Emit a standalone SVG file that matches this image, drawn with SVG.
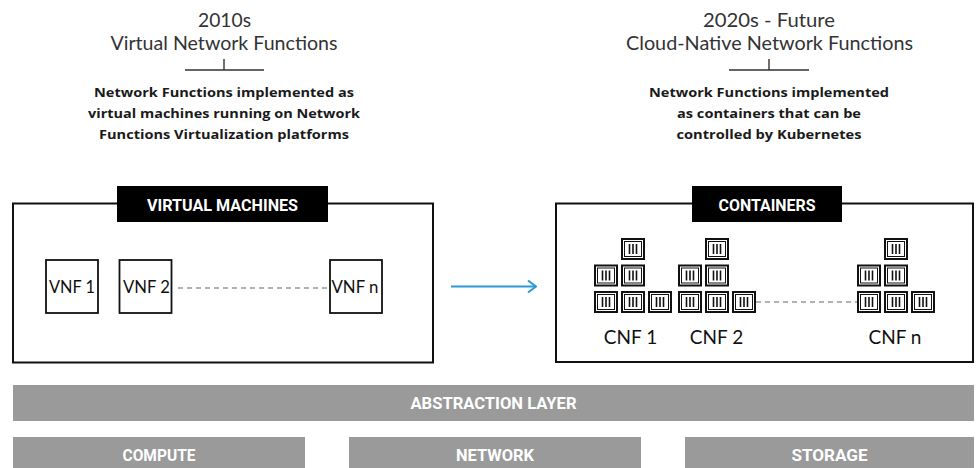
<svg xmlns="http://www.w3.org/2000/svg" xmlns:xlink="http://www.w3.org/1999/xlink" width="977" height="468" viewBox="0 0 977 468">
  <style>
    .title { font-family: Lato, "Liberation Sans", sans-serif; font-weight: 400; font-size: 19px; fill: #333; text-anchor: middle; }
    .desc { font-family: "Open Sans", "Liberation Sans", sans-serif; font-weight: 700; font-size: 13px; fill: #1a1a1a; text-anchor: middle; }
    .tick { stroke: #333; stroke-width: 1.4; fill: none; }
    .frame { fill: #fff; stroke: #111; stroke-width: 2; }
    .hdr { fill: #000; }
    .hdrtxt { font-family: Roboto, "Liberation Sans", sans-serif; font-weight: 700; font-size: 16px; fill: #fff; text-anchor: middle; }
    .vnf { fill: #fff; stroke: #111; stroke-width: 1.8; }
    .lbl { font-family: Lato, "Liberation Sans", sans-serif; font-size: 17.5px; fill: #111; text-anchor: middle; }
    .clbl { font-family: Lato, "Liberation Sans", sans-serif; font-size: 19px; fill: #111; text-anchor: middle; }
    .dash { stroke: #999; stroke-width: 1.5; stroke-dasharray: 5 4; fill: none; }
    .arrow { stroke: #2a9ad6; stroke-width: 2; fill: none; }
    .bar { fill: #9a9a9a; }
    .bartxt { font-family: Roboto, "Liberation Sans", sans-serif; font-weight: 700; font-size: 16px; fill: #fff; text-anchor: middle; }
  </style>
  <defs>
    <marker id="chev" viewBox="0 0 10 14" refX="9" refY="7" markerWidth="10" markerHeight="14" markerUnits="userSpaceOnUse" orient="auto">
      <path d="M1,1 L9,7 L1,13" fill="none" stroke="#2a9ad6" stroke-width="2"/>
    </marker>
    <g id="ctr">
      <rect x="1" y="1" width="22" height="20" fill="#fff" stroke="#111" stroke-width="2"/>
      <rect x="3.5" y="3.5" width="17" height="15" fill="none" stroke="#111" stroke-width="1"/>
      <path d="M8.5,6 V16 M12,6 V16 M15.5,6 V16" stroke="#111" stroke-width="1.6"/>
    </g>
  </defs>

  <g id="title-left">
    <text class="title" x="224.5" y="27" textLength="53" lengthAdjust="spacingAndGlyphs">2010s</text>
    <text class="title" x="224" y="50" textLength="227" lengthAdjust="spacingAndGlyphs">Virtual Network Functions</text>
    <path class="tick" d="M185,70 H264 M224,59 V70"/>
    <text class="desc" x="224" y="97" textLength="260" lengthAdjust="spacingAndGlyphs">Network Functions implemented as</text>
    <text class="desc" x="224" y="117.5" textLength="272" lengthAdjust="spacingAndGlyphs">virtual machines running on Network</text>
    <text class="desc" x="224" y="138.5" textLength="250" lengthAdjust="spacingAndGlyphs">Functions Virtualization platforms</text>
  </g>

  <g id="title-right">
    <text class="title" x="769" y="27" textLength="132" lengthAdjust="spacingAndGlyphs">2020s - Future</text>
    <text class="title" x="769.5" y="50" textLength="287" lengthAdjust="spacingAndGlyphs">Cloud-Native Network Functions</text>
    <path class="tick" d="M729,70 H809 M769,59 V70"/>
    <text class="desc" x="769" y="97" textLength="240" lengthAdjust="spacingAndGlyphs">Network Functions implemented</text>
    <text class="desc" x="769" y="117.5" textLength="184" lengthAdjust="spacingAndGlyphs">as containers that can be</text>
    <text class="desc" x="769" y="138.5" textLength="185" lengthAdjust="spacingAndGlyphs">controlled by Kubernetes</text>
  </g>

  <g id="vm-box">
    <rect class="frame" x="13" y="203.5" width="420" height="159"/>
    <rect class="hdr" x="117" y="186" width="211" height="36"/>
    <text class="hdrtxt" x="222.5" y="210.5" textLength="151" lengthAdjust="spacingAndGlyphs">VIRTUAL MACHINES</text>
  </g>

  <g id="vnf1">
    <rect class="vnf" x="46" y="260" width="52" height="53"/>
    <text class="lbl" x="72" y="292.5" textLength="46" lengthAdjust="spacingAndGlyphs">VNF 1</text>
  </g>
  <g id="vnf2">
    <rect class="vnf" x="119.5" y="260" width="52" height="53"/>
    <text class="lbl" x="146.5" y="292.5" textLength="47" lengthAdjust="spacingAndGlyphs">VNF 2</text>
  </g>
  <g id="vnfn">
    <rect class="vnf" x="330" y="260" width="52" height="53"/>
    <text class="lbl" x="355" y="292.5" textLength="47" lengthAdjust="spacingAndGlyphs">VNF n</text>
  </g>

  <g id="ctr-box">
    <rect class="frame" x="556" y="203.5" width="417" height="158.5"/>
    <rect class="hdr" x="692" y="186" width="150" height="36"/>
    <text class="hdrtxt" x="767" y="210.5" textLength="97" lengthAdjust="spacingAndGlyphs">CONTAINERS</text>
  </g>

  <g id="cnf1">
    <use xlink:href="#ctr" x="621" y="238"/>
    <use xlink:href="#ctr" x="594" y="264.5"/>
    <use xlink:href="#ctr" x="621" y="264.5"/>
    <use xlink:href="#ctr" x="594" y="291"/>
    <use xlink:href="#ctr" x="621" y="291"/>
    <use xlink:href="#ctr" x="648" y="291"/>
    <text class="clbl" x="630.5" y="344">CNF 1</text>
  </g>
  <g id="cnf2">
    <use xlink:href="#ctr" x="705" y="238"/>
    <use xlink:href="#ctr" x="678" y="264.5"/>
    <use xlink:href="#ctr" x="705" y="264.5"/>
    <use xlink:href="#ctr" x="678" y="291"/>
    <use xlink:href="#ctr" x="705" y="291"/>
    <use xlink:href="#ctr" x="732" y="291"/>
    <text class="clbl" x="716.5" y="344">CNF 2</text>
  </g>
  <g id="cnfn">
    <use xlink:href="#ctr" x="884" y="238"/>
    <use xlink:href="#ctr" x="857" y="264.5"/>
    <use xlink:href="#ctr" x="884" y="264.5"/>
    <use xlink:href="#ctr" x="857" y="291"/>
    <use xlink:href="#ctr" x="884" y="291"/>
    <use xlink:href="#ctr" x="911" y="291"/>
    <text class="clbl" x="895" y="344">CNF n</text>
  </g>

  <g id="connectors">
    <path class="dash" d="M178,288 H330"/>
    <path class="dash" d="M756,302 H857"/>
    <path class="arrow" d="M451,286.5 H536" marker-end="url(#chev)"/>
  </g>

  <g id="abstraction">
    <rect class="bar" x="13" y="385" width="961" height="36"/>
    <text class="bartxt" x="493.5" y="408.5" textLength="166" lengthAdjust="spacingAndGlyphs">ABSTRACTION LAYER</text>
  </g>
  <g id="compute">
    <rect class="bar" x="13" y="437" width="292" height="36"/>
    <text class="bartxt" x="159" y="461" textLength="73" lengthAdjust="spacingAndGlyphs">COMPUTE</text>
  </g>
  <g id="network">
    <rect class="bar" x="349" y="437" width="292" height="36"/>
    <text class="bartxt" x="495" y="461" textLength="78" lengthAdjust="spacingAndGlyphs">NETWORK</text>
  </g>
  <g id="storage">
    <rect class="bar" x="685" y="437" width="289" height="36"/>
    <text class="bartxt" x="829.5" y="461" textLength="76" lengthAdjust="spacingAndGlyphs">STORAGE</text>
  </g>
</svg>
